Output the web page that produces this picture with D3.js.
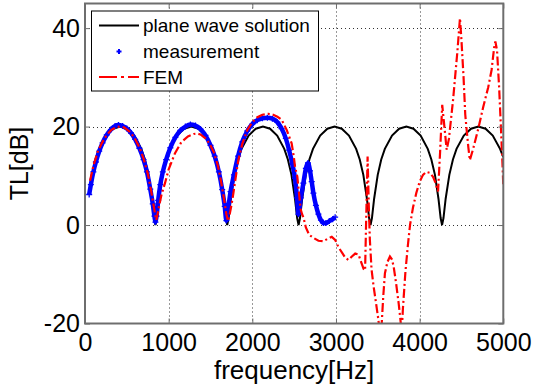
<!DOCTYPE html>
<html>
<head>
<meta charset="utf-8">
<script src="https://d3js.org/d3.v7.min.js"></script>
<style>
    body { margin: 0; background: #fff; }
    svg { display: block; font-family: "Liberation Sans", Arial, sans-serif; }
</style>
</head>
<body>
<div id="chart-ctn"></div>
<script>
// Values
let xTicks = [0, 1000, 2000, 3000, 4000, 5000];
let yTicks = [-20, 0, 20, 40];
let seriesNames = ["plane wave solution", "measurement", "FEM"];

// plane wave solution (black)
let pwFreq = [50, 84, 126, 168, 253, 337, 421, 505, 589, 674, 716, 758, 800, 825, 842,
    859, 885, 928, 971, 1014, 1099, 1185, 1271, 1357, 1443, 1528, 1571, 1614, 1657, 1683, 1700,
    1717, 1743, 1785, 1828, 1871, 1956, 2041, 2127, 2212, 2297, 2382, 2425, 2468, 2510, 2536, 2553,
    2570, 2596, 2639, 2682, 2725, 2811, 2897, 2983, 3069, 3155, 3241, 3284, 3327, 3370, 3396, 3413,
    3430, 3456, 3499, 3541, 3584, 3670, 3755, 3841, 3926, 4012, 4097, 4140, 4183, 4225, 4251, 4268,
    4285, 4311, 4355, 4398, 4441, 4528, 4614, 4701, 4788, 4874, 4961, 5000];
let pwTL = [6.3, 10.19, 13.31, 15.47, 18.18, 19.57, 20, 19.57, 18.18, 15.47, 13.31, 10.19, 5.34, 1.43, 0,
    1.43, 5.34, 10.19, 13.31, 15.47, 18.18, 19.57, 20, 19.57, 18.18, 15.47, 13.31, 10.19, 5.34, 1.43, 0,
    1.43, 5.34, 10.19, 13.31, 15.47, 18.18, 19.57, 20, 19.57, 18.18, 15.47, 13.31, 10.19, 5.34, 1.43, 0,
    1.43, 5.34, 10.19, 13.31, 15.47, 18.18, 19.57, 20, 19.57, 18.18, 15.47, 13.31, 10.19, 5.34, 1.43, 0,
    1.43, 5.34, 10.19, 13.31, 15.47, 18.18, 19.57, 20, 19.57, 18.18, 15.47, 13.31, 10.19, 5.34, 1.43, 0,
    1.43, 5.34, 10.19, 13.31, 15.47, 18.18, 19.57, 20, 19.57, 18.18, 15.47, 13.8];

// measurement (blue markers)
let measFreq = [50, 70, 100, 130, 170, 210, 260, 310, 360, 400, 450, 500, 550, 600, 650, 700, 740, 780, 810, 830, 842,
    855, 875, 900, 930, 970, 1020, 1080, 1140, 1200, 1260, 1320, 1380, 1440, 1500, 1550, 1600, 1640, 1670, 1690,
    1710, 1740, 1780, 1830, 1880, 1940, 2000, 2060, 2120, 2180, 2240, 2300, 2350, 2400, 2440, 2480, 2510, 2535, 2550,
    2580, 2610, 2640, 2665, 2690, 2710, 2730, 2760, 2790, 2820, 2850, 2880, 2920, 2960, 2990];
let measTL = [6.2, 8.2, 10.8, 12.8, 15.0, 16.7, 18.3, 19.4, 20.1, 20.3, 20.1, 19.6, 18.7, 17.4, 15.6, 13.3, 10.8, 7.3, 4.3, 1.8, 0.6,
    1.8, 5.0, 8.2, 10.8, 13.3, 15.7, 17.8, 19.2, 20.0, 20.4, 20.2, 19.5, 18.2, 16.2, 14.0, 10.8, 7.2, 3.8, 0.9,
    3.2, 6.8, 10.2, 14.0, 16.9, 19.1, 20.5, 21.3, 21.7, 21.8, 21.6, 20.9, 19.6, 17.6, 15.2, 12.3, 9.5, 5.5, 2.2,
    5.5, 8.5, 11.5, 12.6, 11.0, 8.8, 6.5, 4.0, 2.2, 1.0, 0.4, 0.4, 0.8, 1.2, 1.6];

// FEM (red dash-dot)
let femFreq = [60, 100, 150, 200, 260, 320, 380, 420, 470, 530, 590, 650, 700, 750, 790, 820, 840, 852,
    865, 885, 915, 956, 1000, 1076, 1150, 1230, 1300, 1340, 1380, 1440, 1490, 1540, 1590, 1630, 1665, 1690, 1710,
    1725, 1748, 1773, 1800, 1833, 1880, 1940, 2000, 2060, 2120, 2190, 2250, 2300, 2351, 2411, 2440, 2470, 2495, 2510,
    2538, 2562, 2578, 2595, 2612, 2640, 2680, 2730, 2790, 2850, 2900, 2950, 2990, 3030, 3080, 3110, 3150, 3190, 3230,
    3270, 3300, 3330, 3348, 3362, 3378, 3392, 3405, 3425, 3450, 3480, 3505, 3525, 3545, 3565, 3585, 3615, 3645, 3670,
    3690, 3720, 3750, 3772, 3785, 3800, 3830, 3860, 3885, 3920, 3960, 4000, 4040, 4080, 4124, 4160, 4190, 4220,
    4245, 4270, 4290, 4323, 4350, 4400, 4450, 4482, 4500, 4525, 4545, 4562, 4582, 4600, 4640, 4700, 4760, 4820,
    4860, 4890, 4905, 4925, 4950, 4975, 4990, 5000];
let femTL = [9.0, 12.0, 14.8, 16.6, 18.3, 19.4, 19.9, 20.0, 19.8, 19.0, 17.8, 15.8, 13.5, 10.5, 7.0, 4.0, 2.0, 1.0,
    2.0, 3.8, 6.2, 8.5, 11.3, 14.6, 16.8, 18.0, 18.5, 18.6, 18.4, 17.6, 16.5, 14.8, 12.0, 8.5, 5.0, 2.2, 0.8,
    1.8, 3.8, 6.4, 9.5, 13.2, 16.5, 19.3, 20.9, 21.9, 22.4, 22.6, 22.4, 22.0, 21.4, 19.3, 18.0, 16.6, 14.0, 11.9,
    9.8, 5.8, 3.2, 2.2, 1.5, -0.5, -2.0, -2.6, -3.2, -3.3, -2.8, -2.4, -3.0, -4.5, -5.8, -6.6, -7.1, -6.4, -5.8,
    -6.0, -7.5, -8.9, -9.2, 2.0, 13.9, 4.0, -3.0, -9.0, -12.5, -16.0, -19.0, -22.0, -20.5, -14.5, -9.8, -7.5, -6.4, -7.0,
    -8.5, -12.0, -16.0, -19.5, -22.0, -17.0, -9.5, -4.0, 0.0, 3.5, 6.5, 8.8, 10.2, 10.8, 10.6, 9.8, 8.6, 6.8,
    15.0, 24.4, 21.0, 15.3, 17.5, 25.5, 35.0, 42.0, 37.5, 30.0, 22.5, 19.3, 15.8, 13.2, 15.5, 19.5, 24.0, 28.0,
    31.5, 36.0, 37.3, 35.5, 28.0, 18.5, 12.5, 8.0];

let width = 535;
let height = 389;
let plot = { left: 85, right: 503.3, top: 3.5, bottom: 323.5 };
let axisColor = "#6e6e6e";

function zipSeries(fs, vs) {
    return fs.map((f, i) => ({ f: f, v: vs[i] }));
}

function drawChart() {
    let svg = d3.select("#chart-ctn")
        .append("svg")
        .attr("width", width)
        .attr("height", height);

    let x = d3.scaleLinear().domain([0, 5000]).range([plot.left, plot.right]);
    let y = d3.scaleLinear().domain([-20, 45]).range([plot.bottom, plot.top]);

    svg.append("defs").append("clipPath").attr("id", "clip")
        .append("rect")
        .attr("x", plot.left).attr("y", plot.top)
        .attr("width", plot.right - plot.left)
        .attr("height", plot.bottom - plot.top);

    // dotted grid
    let grid = svg.append("g").attr("stroke", "#333").attr("stroke-width", 1)
        .attr("stroke-dasharray", "1,3");
    grid.selectAll(".gx")
        .data(xTicks.filter(t => t > 0 && t < 5000))
        .join("line")
        .attr("x1", d => Math.round(x(d)) + 0.5).attr("x2", d => Math.round(x(d)) + 0.5)
        .attr("y1", plot.top).attr("y2", plot.bottom);
    grid.selectAll(".gy")
        .data(yTicks.filter(t => t > -20))
        .join("line")
        .attr("y1", d => Math.round(y(d)) + 0.5).attr("y2", d => Math.round(y(d)) + 0.5)
        .attr("x1", plot.left).attr("x2", plot.right);

    let line = d3.line().x(d => x(d.f)).y(d => y(d.v));
    let lines = svg.append("g").attr("clip-path", "url(#clip)");

    // plane wave solution
    lines.append("path")
        .datum(zipSeries(pwFreq, pwTL))
        .attr("d", line)
        .attr("fill", "none")
        .attr("stroke", "#000")
        .attr("stroke-width", 2);

    // measurement: dense blue markers
    let meas = zipSeries(measFreq, measTL);
    lines.append("path")
        .datum(meas)
        .attr("d", line.curve(d3.curveMonotoneX))
        .attr("fill", "none")
        .attr("stroke", "#0000ff")
        .attr("stroke-width", 4.5);
    line.curve(d3.curveLinear);
    lines.append("g")
        .selectAll("path")
        .data(meas)
        .join("path")
        .attr("transform", d => `translate(${x(d.f)},${y(d.v)})`)
        .attr("d", "M-3,0H3M0,-3V3")
        .attr("stroke", "#0000ff")
        .attr("stroke-width", 1.3);

    // FEM
    lines.append("path")
        .datum(zipSeries(femFreq, femTL))
        .attr("d", line)
        .attr("fill", "none")
        .attr("stroke", "#ff0000")
        .attr("stroke-width", 2.2)
        .attr("stroke-dasharray", "9,3,2,3");

    // axes with inward ticks
    let fmt = d => String(d);
    let xAxis = svg.append("g")
        .attr("transform", `translate(0,${plot.bottom})`)
        .call(d3.axisBottom(x).tickValues(xTicks).tickFormat(fmt)
            .tickSizeInner(-5).tickSizeOuter(0).tickPadding(9.5));
    let yAxis = svg.append("g")
        .attr("transform", `translate(${plot.left},0)`)
        .call(d3.axisLeft(y).tickValues(yTicks).tickFormat(fmt)
            .tickSizeInner(-5).tickSizeOuter(0).tickPadding(5));
    svg.append("g")
        .attr("transform", `translate(0,${plot.top})`)
        .call(d3.axisTop(x).tickValues(xTicks).tickSizeInner(-5).tickSizeOuter(0).tickFormat(""));
    svg.append("g")
        .attr("transform", `translate(${plot.right},0)`)
        .call(d3.axisRight(y).tickValues(yTicks).tickSizeInner(-5).tickSizeOuter(0).tickFormat(""));

    svg.selectAll(".domain").remove();
    svg.selectAll(".tick line").attr("stroke", axisColor);
    [xAxis, yAxis].forEach(a => a.selectAll("text")
        .attr("font-size", 25)
        .attr("font-family", '"Liberation Sans", Arial, sans-serif')
        .attr("fill", "#000"));

    svg.append("rect")
        .attr("x", plot.left).attr("y", plot.top)
        .attr("width", plot.right - plot.left)
        .attr("height", plot.bottom - plot.top)
        .attr("fill", "none")
        .attr("stroke", axisColor)
        .attr("stroke-width", 2);

    // axis labels
    svg.append("text")
        .attr("x", (plot.left + plot.right) / 2)
        .attr("y", 379)
        .attr("text-anchor", "middle")
        .attr("font-size", 26)
        .text("frequency[Hz]");
    svg.append("text")
        .attr("transform", `translate(28,${(plot.top + plot.bottom) / 2}) rotate(-90)`)
        .attr("text-anchor", "middle")
        .attr("font-size", 25)
        .text("TL[dB]");

    // legend
    let legend = svg.append("g");
    legend.append("rect")
        .attr("x", 91.5).attr("y", 11)
        .attr("width", 227).attr("height", 80)
        .attr("fill", "#fff")
        .attr("stroke", "#000")
        .attr("stroke-width", 1);
    let rowY = [25.5, 51.5, 77];
    let rows = legend.selectAll(".row")
        .data(seriesNames)
        .join("g")
        .attr("transform", (d, i) => `translate(0,${rowY[i]})`);
    rows.append("text")
        .attr("x", 143)
        .attr("dy", "0.36em")
        .attr("font-size", 19)
        .text(d => d);
    rows.filter((d, i) => i === 0).append("line")
        .attr("x1", 99).attr("x2", 139)
        .attr("stroke", "#000").attr("stroke-width", 2);
    rows.filter((d, i) => i === 1).append("path")
        .attr("transform", "translate(119,0)")
        .attr("d", "M-2.5,0H2.5M0,-2.5V2.5")
        .attr("stroke", "#0000ff").attr("stroke-width", 2);
    rows.filter((d, i) => i === 2).append("line")
        .attr("x1", 99).attr("x2", 139)
        .attr("stroke", "#ff0000").attr("stroke-width", 2)
        .attr("stroke-dasharray", "18,4,3,4");
}

drawChart();
</script>
</body>
</html>
